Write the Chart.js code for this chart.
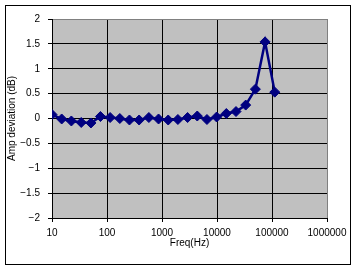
<!DOCTYPE html>
<html>
<head>
<meta charset="utf-8">
<script src="https://cdn.jsdelivr.net/npm/chart.js@4/dist/chart.umd.min.js"></script>
<style>
  body { margin: 0; background: #fff; }
  canvas { display: block; }
</style>
</head>
<body>
<canvas id="chart" width="356" height="267"></canvas>
<script>
// frequencies (Hz)
const freqHz = [10, 15, 22.5, 34, 51, 76, 114, 171, 256, 384, 577, 865,
  1297, 1946, 2919, 4379, 6568, 9853, 14779, 22168, 33253, 49879, 74818, 112227];
// amplitude deviation (dB)
const ampDev = [0.08, -0.01, -0.05, -0.08, -0.09, 0.04, 0.02, 0.00, -0.03, -0.03, 0.02, -0.01,
  -0.03, -0.02, 0.02, 0.05, -0.02, 0.03, 0.10, 0.14, 0.27, 0.59, 1.54, 0.53];
const xTickValues = [10, 100, 1000, 10000, 100000, 1000000];
const yTickValues = [-2, -1.5, -1, -0.5, 0, 0.5, 1, 1.5, 2];

const fontFamily = '"Liberation Sans", Arial, sans-serif';

// gray plot background + outer frame like the Excel chart
const framePlugin = {
  id: 'frame',
  beforeDraw(chart) {
    const { ctx, chartArea } = chart;
    ctx.save();
    ctx.fillStyle = '#fff';
    ctx.fillRect(0, 0, chart.width, chart.height);
    ctx.fillStyle = '#c0c0c0';
    ctx.fillRect(chartArea.left, chartArea.top, chartArea.right - chartArea.left, chartArea.bottom - chartArea.top);
    ctx.restore();
  },
  afterDraw(chart) {
    const { ctx } = chart;
    ctx.save();
    ctx.strokeStyle = '#000';
    ctx.lineWidth = 1;
    ctx.strokeRect(5.5, 5.5, 345, 259);
    ctx.restore();
  }
};

new Chart(document.getElementById('chart'), {
  type: 'line',
  data: {
    datasets: [{
      data: freqHz.map((f, i) => ({ x: f, y: ampDev[i] })),
      borderColor: '#000080',
      backgroundColor: '#000080',
      borderWidth: 2.5,
      pointStyle: 'rectRot',
      pointRadius: 5,
      pointBorderWidth: 1,
      tension: 0
    }]
  },
  options: {
    responsive: false,
    animation: false,
    layout: { padding: { top: 19, right: 29, left: 0, bottom: 0 } },
    plugins: {
      legend: { display: false },
      tooltip: { enabled: false }
    },
    scales: {
      x: {
        type: 'logarithmic',
        min: 10,
        max: 1000000,
        afterBuildTicks: (axis) => { axis.ticks = xTickValues.map(v => ({ value: v })); },
        afterFit: (axis) => { axis.height = 49; },
        grid: {
          color: (c) => c.tick && c.tick.value === 1000000 ? '#808080' : '#000',
          tickLength: 4,
          tickColor: '#000'
        },
        border: { color: '#000' },
        ticks: {
          color: '#000',
          padding: 5,
          maxRotation: 0,
          autoSkip: false,
          font: { family: fontFamily, size: 10 },
          callback: (v) => String(v)
        },
        title: {
          display: true,
          text: 'Freq(Hz)',
          color: '#000',
          padding: { top: 0, bottom: 18 },
          font: { family: fontFamily, size: 10 }
        }
      },
      y: {
        min: -2,
        max: 2,
        afterBuildTicks: (axis) => { axis.ticks = yTickValues.map(v => ({ value: v })); },
        afterFit: (axis) => { axis.width = 52; },
        grid: {
          color: (c) => c.tick && c.tick.value === 2 ? '#808080' : '#000',
          tickLength: 4,
          tickColor: '#000'
        },
        border: { color: '#000' },
        ticks: {
          color: '#000',
          padding: 8,
          font: { family: fontFamily, size: 10 },
          callback: (v) => String(v).replace('-', '\u2212')
        },
        title: {
          display: true,
          text: 'Amp deviation (dB)',
          color: '#000',
          padding: { top: 6, bottom: 0 },
          font: { family: fontFamily, size: 10 }
        }
      }
    }
  },
  plugins: [framePlugin]
});
</script>
</body>
</html>
